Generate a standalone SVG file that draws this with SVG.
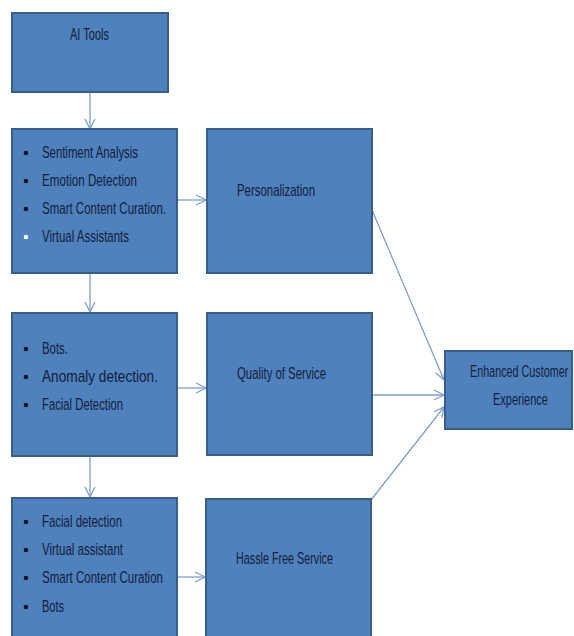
<svg xmlns="http://www.w3.org/2000/svg" width="574" height="636" viewBox="0 0 574 636">
<style>
.box{fill:#4F81BD;stroke:#385D8A;stroke-width:2}
.t{font-family:"Liberation Sans Narrow","Liberation Sans",Arial,sans-serif;font-size:17px;fill:#132038}
.c{stroke:#7F9FCF;stroke-width:1.3;fill:none}
.b{fill:#0d1420}
</style>
<defs>
<marker id="ah" viewBox="0 0 12 12" refX="11" refY="6" markerWidth="12" markerHeight="12" markerUnits="userSpaceOnUse" orient="auto">
<path d="M1,1 L11,6 L1,11" fill="none" stroke="#7F9FCF" stroke-width="1.3"/>
</marker>
</defs>
<rect width="574" height="636" fill="#ffffff"/>
<g id="connectors">
<line class="c" x1="90" y1="92" x2="90" y2="129" marker-end="url(#ah)"/>
<line class="c" x1="90" y1="273" x2="90" y2="312" marker-end="url(#ah)"/>
<line class="c" x1="90" y1="456" x2="90" y2="497" marker-end="url(#ah)"/>
<line class="c" x1="177" y1="200" x2="206" y2="200" marker-end="url(#ah)"/>
<line class="c" x1="177" y1="388" x2="206" y2="388" marker-end="url(#ah)"/>
<line class="c" x1="177" y1="577" x2="205" y2="577" marker-end="url(#ah)"/>
<line class="c" x1="372" y1="210" x2="444" y2="380" marker-end="url(#ah)"/>
<line class="c" x1="372" y1="395" x2="444" y2="395" marker-end="url(#ah)"/>
<line class="c" x1="371" y1="500" x2="444" y2="407" marker-end="url(#ah)"/>
</g>
<g id="ai-tools">
<rect class="box" x="12" y="13" width="156" height="79"/>
<text class="t" x="70" y="40" textLength="39" lengthAdjust="spacingAndGlyphs">AI Tools</text>
</g>
<g id="tools-1">
<rect class="box" x="12" y="129" width="165" height="144"/>
<circle class="b" cx="26" cy="153" r="2.3"/>
<circle class="b" cx="26" cy="181" r="2.3"/>
<circle class="b" cx="26" cy="209" r="2.3"/>
<circle cx="26" cy="237" r="2.3" fill="#ffffff"/>
<text class="t" x="42" y="158" textLength="96" lengthAdjust="spacingAndGlyphs">Sentiment Analysis</text>
<text class="t" x="42" y="186" textLength="95" lengthAdjust="spacingAndGlyphs">Emotion Detection</text>
<text class="t" x="42" y="214" textLength="124" lengthAdjust="spacingAndGlyphs">Smart Content Curation.</text>
<text class="t" x="42" y="242" textLength="87" lengthAdjust="spacingAndGlyphs">Virtual Assistants</text>
</g>
<g id="personalization">
<rect class="box" x="207" y="129" width="165" height="144"/>
<text class="t" x="237" y="196" textLength="78" lengthAdjust="spacingAndGlyphs">Personalization</text>
</g>
<g id="tools-2">
<rect class="box" x="12" y="313" width="165" height="143"/>
<circle class="b" cx="26" cy="349" r="2.3"/>
<circle class="b" cx="26" cy="377" r="2.3"/>
<circle class="b" cx="26" cy="405" r="2.3"/>
<text class="t" x="42" y="354" textLength="26" lengthAdjust="spacingAndGlyphs">Bots.</text>
<text class="t" x="42" y="382" textLength="116" lengthAdjust="spacingAndGlyphs">Anomaly detection.</text>
<text class="t" x="42" y="410" textLength="81" lengthAdjust="spacingAndGlyphs">Facial Detection</text>
</g>
<g id="quality">
<rect class="box" x="207" y="313" width="165" height="142"/>
<text class="t" x="237" y="379" textLength="89" lengthAdjust="spacingAndGlyphs">Quality of Service</text>
</g>
<g id="tools-3">
<rect class="box" x="12" y="498" width="165" height="150"/>
<circle class="b" cx="26" cy="522" r="2.3"/>
<circle class="b" cx="26" cy="550" r="2.3"/>
<circle class="b" cx="26" cy="578" r="2.3"/>
<circle class="b" cx="26" cy="607" r="2.3"/>
<text class="t" x="42" y="527" textLength="80" lengthAdjust="spacingAndGlyphs">Facial detection</text>
<text class="t" x="42" y="555" textLength="81" lengthAdjust="spacingAndGlyphs">Virtual assistant</text>
<text class="t" x="42" y="583" textLength="121" lengthAdjust="spacingAndGlyphs">Smart Content Curation</text>
<text class="t" x="42" y="612" textLength="22" lengthAdjust="spacingAndGlyphs">Bots</text>
</g>
<g id="hassle-free">
<rect class="box" x="206" y="499" width="165" height="150"/>
<text class="t" x="236" y="564" textLength="97" lengthAdjust="spacingAndGlyphs">Hassle Free Service</text>
</g>
<g id="enhanced">
<rect class="box" x="445" y="351" width="127" height="78"/>
<text class="t" transform="translate(470,377) scale(0.635,1)">Enhanced Customer</text>
<text class="t" transform="translate(493,405) scale(0.645,1)">Experience</text>
</g>
</svg>
